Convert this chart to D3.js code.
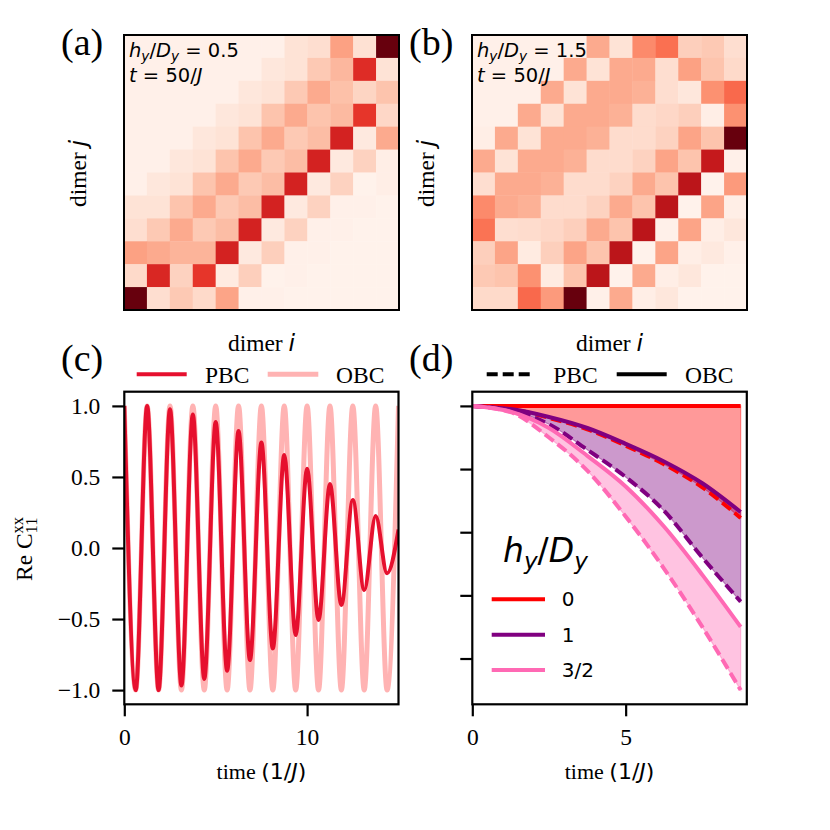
<!DOCTYPE html>
<html><head><meta charset="utf-8">
<script src="https://cdn.jsdelivr.net/npm/d3@7"></script>
<style>body{margin:0;background:#fff} text{white-space:pre}</style>
</head><body>
<svg id="chart" width="830" height="830" xmlns="http://www.w3.org/2000/svg"></svg>
<script>
// ---------------- DATA ----------------
// Heatmap (a): h_y/D_y = 0.5, rows listed top (j=12) to bottom (j=1), columns i=1..12
const heatA = [
  [.03,.03,.03,.03,.03,.03,.03,.10,.12,.33,.11,1.0],
  [.03,.03,.03,.03,.03,.03,.08,.10,.20,.26,.68,.10],
  [.03,.03,.03,.03,.03,.08,.10,.20,.30,.23,.16,.22],
  [.03,.03,.03,.03,.08,.10,.22,.30,.22,.25,.65,.15],
  [.03,.03,.03,.08,.10,.22,.30,.20,.24,.72,.07,.30],
  [.03,.03,.08,.10,.22,.30,.20,.24,.72,.07,.17,.04],
  [.03,.08,.10,.22,.30,.20,.24,.72,.07,.17,.02,.04],
  [.10,.10,.22,.30,.20,.24,.72,.07,.17,.03,.03,.02],
  [.12,.20,.30,.20,.24,.72,.07,.17,.03,.03,.02,.02],
  [.33,.30,.27,.27,.72,.07,.18,.03,.03,.02,.02,.02],
  [.14,.70,.17,.65,.06,.18,.02,.03,.02,.02,.02,.02],
  [1.0,.12,.20,.14,.32,.03,.03,.02,.02,.02,.02,.02]
];
// Heatmap (b): h_y/D_y = 1.5
const heatB = [
  [.03,.03,.03,.03,.03,.30,.10,.40,.48,.18,.20,.12],
  [.03,.03,.03,.03,.30,.10,.30,.30,.12,.33,.22,.14],
  [.03,.03,.03,.30,.10,.30,.30,.28,.12,.08,.38,.50],
  [.03,.03,.30,.10,.30,.30,.28,.13,.15,.18,.04,.38],
  [.04,.30,.10,.30,.30,.28,.13,.13,.17,.32,.22,1.0],
  [.30,.10,.30,.30,.28,.13,.13,.17,.32,.22,.77,.03],
  [.12,.30,.30,.28,.13,.13,.17,.30,.22,.80,.02,.35],
  [.40,.30,.28,.13,.13,.17,.30,.22,.80,.02,.32,.04],
  [.47,.12,.13,.15,.18,.30,.22,.80,.03,.32,.04,.08],
  [.18,.32,.06,.18,.32,.22,.80,.02,.32,.04,.07,.03],
  [.20,.22,.38,.06,.22,.80,.02,.30,.04,.08,.02,.02],
  [.14,.14,.50,.35,1.0,.03,.30,.04,.08,.02,.02,.02]
];
const heatLabelA = "0.5";
const heatLabelB = "1.5";

// Panel (c): Re C11xx extrema (peaks and troughs) vs time
const timeC = [0,0.625,1.25,1.875,2.5,3.125,3.75,4.375,5,5.625,6.25,6.875,7.5,8.125,8.75,9.375,10,10.625,11.25,11.875,12.5,13.125,13.75,14.375,15];
const pbcC  = [1.0,-1.0,1.0,-1.0,0.977,-0.968,0.94,-0.922,0.887,-0.864,0.824,-0.789,0.742,-0.707,0.655,-0.613,0.558,-0.507,0.45,-0.401,0.338,-0.296,0.225,-0.178,0.13];
const obcC  = [1.0,-1.0,1.0,-1.0,1.0,-1.0,1.0,-1.0,1.0,-1.0,1.0,-1.0,1.0,-1.0,1.0,-1.0,1.0,-1.0,1.0,-1.0,1.0,-1.0,1.0,-1.0,1.0];
const cTicksY = [-1.0,-0.5,0.0,0.5,1.0];
const cTicksX = [0,10];

// Panel (d)
const timeD  = [0,1.25,2.5,3.75,5,6.25,7.5,8.75];
const obcD0  = [1,1,1,1,1,1,1,1];
const pbcD0  = [1.0,0.99,0.962,0.926,0.874,0.815,0.742,0.645];
const obcD1  = [1.0,0.99,0.965,0.93,0.88,0.824,0.755,0.664];
const pbcD1  = [1.0,0.985,0.942,0.861,0.775,0.668,0.52,0.38];
const obcD32 = [1.0,0.982,0.93,0.842,0.745,0.618,0.465,0.30];
const pbcD32 = [1.0,0.98,0.9,0.795,0.65,0.485,0.30,0.10];
const dLegend = ["0","1","3/2"];
const dTicksY = [0.2,0.4,0.6,0.8,1.0];
const dTicksX = [0,5];

// ---------------- DRAWING ----------------
const svg = d3.select('#chart');
const SERIF = '"Liberation Serif","Times New Roman",serif';
const SANS = '"DejaVu Sans",sans-serif';
const FS = 23.5;
const colPBC = '#e6102e', colOBC = '#ffb3b3';
const dCols = ['#ff0000','#800080','#ff69b4'];

function rich(g, x, y, parts, size, anchor) {
  const t = g.append('text').attr('x', x).attr('y', y)
    .attr('font-size', size).attr('text-anchor', anchor || 'start').attr('fill', '#000');
  let shift = 0;
  parts.forEach(p => {
    const ts = t.append('tspan').text(p.t)
      .attr('font-family', p.serif ? SERIF : SANS)
      .attr('font-style', p.i ? 'italic' : 'normal');
    const target = p.sub ? size * 0.22 : (p.sup ? -size * 0.38 : 0);
    if (target - shift !== 0) ts.attr('dy', target - shift);
    shift = target;
    if (p.sub || p.sup) ts.attr('font-size', size * 0.7);
    if (p.dx) ts.attr('dx', p.dx);
  });
  return t;
}

function heatmap(rows, x0, y0, size, label) {
  const g = svg.append('g');
  const n = rows.length;
  const xs = d3.scaleBand().domain(d3.range(n)).range([x0, x0 + size]);
  const ys = d3.scaleBand().domain(d3.range(n)).range([y0, y0 + size]);
  const color = d3.scaleSequential(d3.interpolateReds).domain([0, 1]);
  const cells = rows.flatMap((row, r) => row.map((v, c) => ({r, c, v})));
  g.selectAll('rect.cell').data(cells).enter().append('rect')
    .attr('x', d => xs(d.c)).attr('y', d => ys(d.r))
    .attr('width', xs.bandwidth() + 0.4).attr('height', ys.bandwidth() + 0.4)
    .attr('fill', d => color(d.v));
  g.append('rect').attr('x', x0).attr('y', y0).attr('width', size).attr('height', size)
    .attr('fill', 'none').attr('stroke', '#000').attr('stroke-width', 2);
  rich(g, x0 + 5, y0 + 21.5, [{t:'h',i:1},{t:'y',i:1,sub:1},{t:'/'},{t:'D',i:1},{t:'y',i:1,sub:1},{t:' = ' + label}], 19.5);
  rich(g, x0 + 5, y0 + 46.5, [{t:'t',i:1},{t:' = 50/'},{t:'J',i:1}], 19.5);
  // x label
  rich(g, x0 + size / 2, 351, [{t:'dimer ', serif:1},{t:'i',i:1}], FS, 'middle');
  // y label
  const gy = svg.append('g').attr('transform', `translate(${x0 - 38},${y0 + size/2 + 1}) rotate(-90)`);
  rich(gy, 0, 0, [{t:'dimer ', serif:1},{t:'j',i:1}], FS, 'middle');
}
heatmap(heatA, 124, 35, 275, heatLabelA);
heatmap(heatB, 472, 35, 275, heatLabelB);

// panel labels
[['(a)',61,55],['(b)',409,55],['(c)',61,371],['(d)',409,371]].forEach(([s,x,y]) =>
  svg.append('text').attr('x', x).attr('y', y).attr('font-family', SERIF).attr('font-size', 38).text(s));

function styleAxis(g) {
  g.select('.domain').remove();
  g.selectAll('.tick line').attr('stroke', '#000').attr('stroke-width', 2.2);
  g.selectAll('.tick text').attr('font-family', SERIF).attr('font-size', FS).attr('fill', '#000');
}

// ---------- panel (c) ----------
const cx0 = 124.3, cx1 = 398.5, cy0 = 391.7, cy1 = 704.3;
const xC = d3.scaleLinear().domain([0, 15]).range([cx0, cx1]);
const yC = d3.scaleLinear().domain([-1.1, 1.1]).range([cy1, cy0]);
svg.append('clipPath').attr('id', 'clipC').append('rect')
  .attr('x', cx0).attr('y', cy0).attr('width', cx1 - cx0).attr('height', cy1 - cy0);
const gC = svg.append('g');
const lineC = vals => d3.line().x((d, i) => xC(timeC[i])).y(d => yC(d)).curve(d3.curveMonotoneX)(vals);
gC.append('path').attr('d', lineC(obcC)).attr('fill', 'none').attr('stroke', colOBC)
  .attr('stroke-width', 5).attr('clip-path', 'url(#clipC)');
gC.append('path').attr('d', lineC(pbcC)).attr('fill', 'none').attr('stroke', colPBC)
  .attr('stroke-width', 4).attr('clip-path', 'url(#clipC)');
gC.append('rect').attr('x', cx0).attr('y', cy0).attr('width', cx1 - cx0).attr('height', cy1 - cy0)
  .attr('fill', 'none').attr('stroke', '#000').attr('stroke-width', 2.2);
styleAxis(svg.append('g').attr('transform', `translate(${cx0},0)`)
  .call(d3.axisLeft(yC).tickValues(cTicksY).tickSize(12).tickPadding(12).tickFormat(d3.format('.1f'))));
styleAxis(svg.append('g').attr('transform', `translate(0,${cy1})`)
  .call(d3.axisBottom(xC).tickValues(cTicksX).tickSize(12).tickPadding(12).tickFormat(d3.format('d'))));
// y label with stacked super/subscript
(function() {
  const tmp = svg.append('text').attr('font-family', SERIF).attr('font-size', FS * 0.7).text('xx');
  const w = tmp.node().getComputedTextLength(); tmp.remove();
  const gy = svg.append('g').attr('transform', `translate(32,549) rotate(-90)`);
  rich(gy, 0, 0, [{t:'Re C', serif:1},{t:'xx', serif:1, sup:1},{t:'11', serif:1, sub:1, dx: -w}], FS, 'middle');
})();
rich(svg, (cx0 + cx1) / 2, 779, [{t:'time ', serif:1},{t:'(1/'},{t:'J',i:1},{t:')'}], 22, 'middle');
// legend (c)
svg.append('line').attr('x1', 136.7).attr('x2', 186.7).attr('y1', 374.3).attr('y2', 374.3)
  .attr('stroke', colPBC).attr('stroke-width', 4);
svg.append('text').attr('x', 205).attr('y', 383).attr('font-family', SERIF).attr('font-size', FS).text('PBC');
svg.append('line').attr('x1', 267.7).attr('x2', 318.3).attr('y1', 374.3).attr('y2', 374.3)
  .attr('stroke', colOBC).attr('stroke-width', 5);
svg.append('text').attr('x', 336).attr('y', 383).attr('font-family', SERIF).attr('font-size', FS).text('OBC');

// ---------- panel (d) ----------
const dx0 = 472.3, dx1 = 746.8;
const xD = d3.scaleLinear().domain([0, 8.95]).range([dx0, dx1]);
const yD = d3.scaleLinear().domain([0.055, 1.045]).range([cy1, cy0]);
const gD = svg.append('g');
const pairs = [[obcD0, pbcD0], [obcD1, pbcD1], [obcD32, pbcD32]];
const areaD = d3.area().x((d, i) => xD(timeD[i])).y0(d => yD(d[0])).y1(d => yD(d[1])).curve(d3.curveMonotoneX);
const lineD = d3.line().x((d, i) => xD(timeD[i])).y(d => yD(d)).curve(d3.curveMonotoneX);
pairs.forEach(([o, p], k) => {
  gD.append('path').attr('d', areaD(o.map((v, i) => [v, p[i]])))
    .attr('fill', dCols[k]).attr('fill-opacity', 0.4)
    .attr('stroke', dCols[k]).attr('stroke-opacity', 0.4).attr('stroke-width', 1.2);
});
pairs.forEach(([o, p], k) => {
  gD.append('path').attr('d', lineD(o)).attr('fill', 'none').attr('stroke', dCols[k]).attr('stroke-width', 4);
  gD.append('path').attr('d', lineD(p)).attr('fill', 'none').attr('stroke', dCols[k]).attr('stroke-width', 4)
    .attr('stroke-dasharray', '11,5');
});
gD.append('rect').attr('x', dx0).attr('y', cy0).attr('width', dx1 - dx0).attr('height', cy1 - cy0)
  .attr('fill', 'none').attr('stroke', '#000').attr('stroke-width', 2.2);
styleAxis(svg.append('g').attr('transform', `translate(${dx0},0)`)
  .call(d3.axisLeft(yD).tickValues(dTicksY).tickSize(12).tickFormat('')));
styleAxis(svg.append('g').attr('transform', `translate(0,${cy1})`)
  .call(d3.axisBottom(xD).tickValues(dTicksX).tickSize(12).tickPadding(12).tickFormat(d3.format('d'))));
rich(svg, (dx0 + dx1) / 2, 779, [{t:'time ', serif:1},{t:'(1/'},{t:'J',i:1},{t:')'}], 22, 'middle');
// top legend (d)
svg.append('line').attr('x1', 486.7).attr('x2', 531.7).attr('y1', 374.3).attr('y2', 374.3)
  .attr('stroke', '#000').attr('stroke-width', 4).attr('stroke-dasharray', '11,5');
svg.append('text').attr('x', 553.3).attr('y', 383).attr('font-family', SERIF).attr('font-size', FS).text('PBC');
svg.append('line').attr('x1', 616.7).attr('x2', 666.7).attr('y1', 374.3).attr('y2', 374.3)
  .attr('stroke', '#000').attr('stroke-width', 4);
svg.append('text').attr('x', 685).attr('y', 383).attr('font-family', SERIF).attr('font-size', FS).text('OBC');
// inner legend (d)
rich(svg, 503, 562, [{t:'h',i:1},{t:'y',i:1,sub:1},{t:'/'},{t:'D',i:1},{t:'y',i:1,sub:1}], 33);
const legY = d3.scalePoint().domain(dLegend).range([599.3, 670]);
dLegend.forEach((lab, k) => {
  svg.append('line').attr('x1', 491.7).attr('x2', 545).attr('y1', legY(lab)).attr('y2', legY(lab))
    .attr('stroke', dCols[k]).attr('stroke-width', 4);
  svg.append('text').attr('x', 561.7).attr('y', legY(lab) + 7).attr('font-family', SANS)
    .attr('font-size', 20).text(lab);
});
</script>
</body></html>
